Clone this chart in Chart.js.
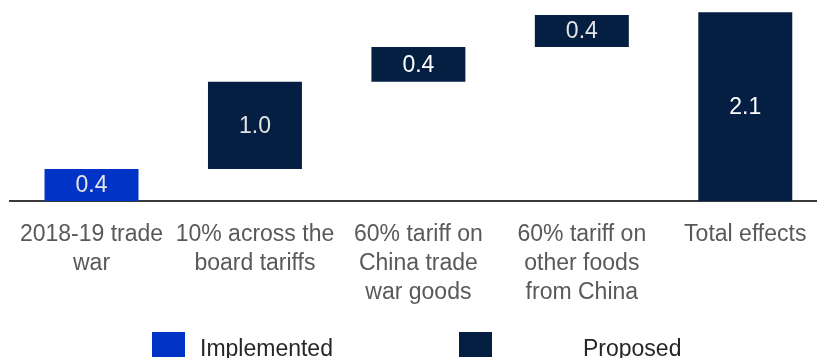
<!DOCTYPE html>
<html>
<head>
<meta charset="utf-8">
<script src="https://cdn.jsdelivr.net/npm/chart.js@4"></script>
<style>
  html, body { margin: 0; padding: 0; background: #fff; overflow: hidden; }
  #wrap { position: relative; width: 827px; height: 358px; }
</style>
</head>
<body>
<div id="wrap"><canvas id="chart"></canvas></div>
<script>
// categories and values (percentage points)
const categories = [
  ['2018-19 trade', 'war'],
  ['10% across the', 'board tariffs'],
  ['60% tariff on', 'China trade', 'war goods'],
  ['60% tariff on', 'other foods', 'from China'],
  ['Total effects']
];
const barStart = [0, 0.4, 1.49, 1.925, 0];
const barEnd = [0.4, 1.49, 1.925, 2.325, 2.36];
const valueLabels = ['0.4', '1.0', '0.4', '0.4', '2.1'];
const status = ['Implemented', 'Proposed', 'Proposed', 'Proposed', 'Proposed'];
const legendLabels = ['Implemented', 'Proposed'];

const colors = { Implemented: '#0033c6', Proposed: '#051f42' };
const labelColors = ['#e4e4e4', '#e4e4e4', '#ffffff', '#e4e4e4', '#ffffff'];
const FONT = "'Liberation Sans', Arial, sans-serif";

const valueLabelPlugin = {
  id: 'valueLabels',
  afterDatasetsDraw(chart) {
    const ctx = chart.ctx;
    const meta = chart.getDatasetMeta(0);
    ctx.save();
    ctx.font = '23px ' + FONT;
    ctx.textAlign = 'center';
    ctx.textBaseline = 'middle';
    meta.data.forEach((bar, i) => {
      const mid = (bar.y + bar.base) / 2;
      ctx.fillStyle = labelColors[i];
      ctx.fillText(valueLabels[i], bar.x, mid + 1);
    });
    ctx.restore();
  }
};

// legend drawn by hand: the original puts the two keys far apart
const legendPlugin = {
  id: 'customLegend',
  afterDraw(chart) {
    const ctx = chart.ctx;
    const spots = [{ box: 152, text: 200 }, { box: 459, text: 583 }];
    ctx.save();
    ctx.font = '23px ' + FONT;
    ctx.textBaseline = 'alphabetic';
    ctx.textAlign = 'left';
    legendLabels.forEach((name, i) => {
      ctx.fillStyle = colors[name];
      ctx.fillRect(spots[i].box, 332, 33, 25);
      ctx.fillStyle = '#262626';
      ctx.fillText(name, spots[i].text, 356);
    });
    ctx.restore();
  }
};

new Chart(document.getElementById('chart'), {
  type: 'bar',
  data: {
    labels: categories,
    datasets: [{
      data: barStart.map((s, i) => [s, barEnd[i]]),
      backgroundColor: status.map(s => colors[s]),
      borderWidth: 0,
      categoryPercentage: 1,
      barPercentage: 0.575
    }]
  },
  options: {
    responsive: true,
    maintainAspectRatio: false,
    animation: false,
    layout: { padding: { left: 9, right: 0, top: 1, bottom: 0 } },
    plugins: {
      legend: { display: false },
      tooltip: { enabled: false }
    },
    scales: {
      x: {
        grid: { display: false, drawTicks: false },
        border: { display: true, color: '#3a3a3a', width: 2 },
        ticks: {
          color: '#595959',
          font: { family: FONT, size: 23, lineHeight: 1.26 },
          padding: 19,
          maxRotation: 0,
          autoSkip: false
        },
        afterFit(scale) { scale.height = 157; }
      },
      y: {
        display: false,
        min: 0,
        max: 2.5
      }
    }
  },
  plugins: [valueLabelPlugin, legendPlugin]
});
</script>
</body>
</html>
